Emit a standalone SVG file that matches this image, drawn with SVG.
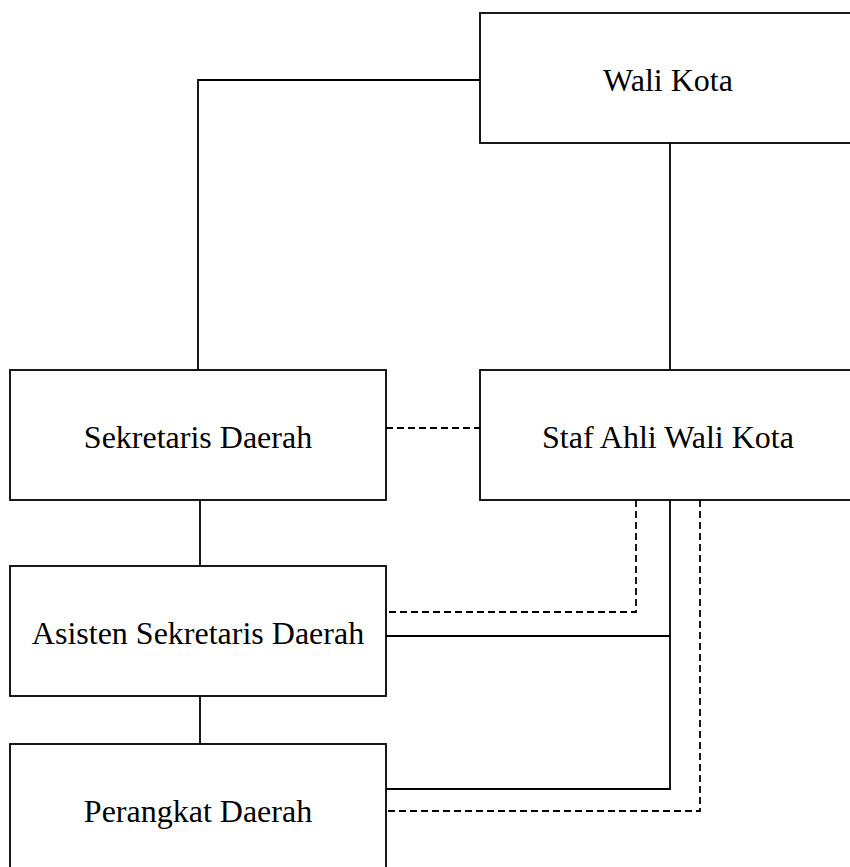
<svg xmlns="http://www.w3.org/2000/svg" width="850" height="867" viewBox="0 0 850 867">
<style>
.box{fill:#fff;stroke:#000;stroke-width:1.8}
.lbl{font-family:"Liberation Serif","Times New Roman",serif;font-size:32px;fill:#000;text-anchor:middle}
.ln{fill:none;stroke:#000;stroke-width:1.8}
.dash{stroke-dasharray:7,4}
</style>
<rect width="850" height="867" fill="#fff"/>
<g id="connectors">
<polyline class="ln" points="480,80 198,80 198,370"/>
<line class="ln" x1="670" y1="143" x2="670" y2="370"/>
<line class="ln dash" x1="386" y1="428" x2="480" y2="428"/>
<line class="ln" x1="200" y1="500" x2="200" y2="566"/>
<line class="ln" x1="200" y1="696" x2="200" y2="744"/>
<polyline class="ln dash" points="636,500 636,612 386,612"/>
<polyline class="ln" points="670,500 670,789 386,789"/>
<line class="ln" x1="386" y1="636" x2="670" y2="636"/>
<polyline class="ln dash" points="700,500 700,811 386,811"/>
</g>
<g id="wali-kota">
<rect class="box" x="480" y="13" width="377" height="130"/>
<text class="lbl" x="668" y="91">Wali Kota</text>
</g>
<g id="sekretaris-daerah">
<rect class="box" x="10" y="370" width="376" height="130"/>
<text class="lbl" x="198" y="448">Sekretaris Daerah</text>
</g>
<g id="staf-ahli">
<rect class="box" x="480" y="370" width="377" height="130"/>
<text class="lbl" x="668" y="448">Staf Ahli Wali Kota</text>
</g>
<g id="asisten">
<rect class="box" x="10" y="566" width="376" height="130"/>
<text class="lbl" x="198" y="644">Asisten Sekretaris Daerah</text>
</g>
<g id="perangkat-daerah">
<rect class="box" x="10" y="744" width="376" height="130"/>
<text class="lbl" x="198" y="822">Perangkat Daerah</text>
</g>
</svg>
